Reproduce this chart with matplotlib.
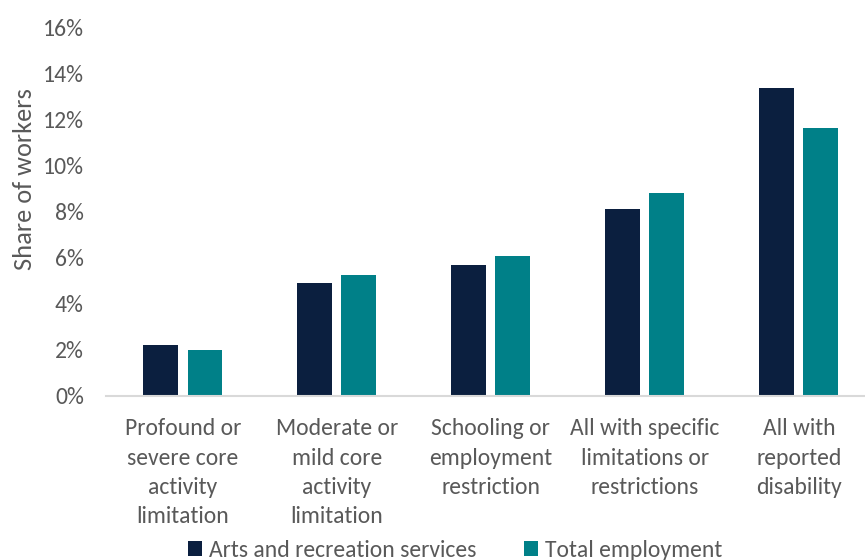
import matplotlib
matplotlib.use('Agg')
import matplotlib.pyplot as plt
from matplotlib import font_manager
from matplotlib.ticker import FuncFormatter
import numpy as np

categories = [
    "Profound or\nsevere core\nactivity\nlimitation",
    "Moderate or\nmild core\nactivity\nlimitation",
    "Schooling or\nemployment\nrestriction",
    "All with specific\nlimitations or\nrestrictions",
    "All with\nreported\ndisability",
]
arts_recreation = [2.2, 4.9, 5.7, 8.1, 13.35]
total_employment = [2.0, 5.25, 6.05, 8.8, 11.6]
series_names = ["Arts and recreation services", "Total employment"]

NAVY = "#0b1f3f"
TEAL = "#008088"
GREY_TEXT = "#595959"

# narrow sans to stand in for Calibri
installed = {f.name for f in font_manager.fontManager.ttflist}
for fam in ["Carlito", "Liberation Sans Narrow", "DejaVu Sans"]:
    if fam in installed:
        plt.rcParams['font.family'] = [fam, 'DejaVu Sans']
        break

fig = plt.figure(figsize=(8.65, 5.6), dpi=100)
ax = fig.add_axes([106 / 865, 164 / 560, 759 / 865, 369 / 560])

x = np.arange(len(categories))
width = 0.227
offset = 0.143
ax.bar(x - offset, arts_recreation, width, color=NAVY, label=series_names[0])
ax.bar(x + offset, total_employment, width, color=TEAL, label=series_names[1])

ax.set_xlim(-0.5, 4.43)
ax.set_ylim(0, 16)
ax.set_yticks(np.arange(0, 17, 2))
ax.yaxis.set_major_formatter(FuncFormatter(lambda v, _: "{:.0f}%".format(v)))
ax.set_xticks(x)
ax.set_xticklabels(categories, linespacing=1.49)

for side in ["top", "right", "left"]:
    ax.spines[side].set_visible(False)
ax.spines["bottom"].set_color("#d9d9d9")
ax.spines["bottom"].set_linewidth(1.5)

ax.tick_params(axis="both", length=0, labelsize=17, labelcolor=GREY_TEXT)
ax.tick_params(axis="y", pad=16)
ax.tick_params(axis="x", pad=16)

ax.set_ylabel("Share of workers", fontsize=19, color=GREY_TEXT, labelpad=4)
ax.yaxis.set_label_coords(-0.092, 0.587)

fig.legend(loc="lower center", bbox_to_anchor=(455 / 865, -0.04), ncol=2,
           frameon=False, fontsize=17, handlelength=0.6, handleheight=0.6,
           handletextpad=0.3, columnspacing=2.0, labelcolor=GREY_TEXT)

plt.savefig("out.png", dpi=100)
